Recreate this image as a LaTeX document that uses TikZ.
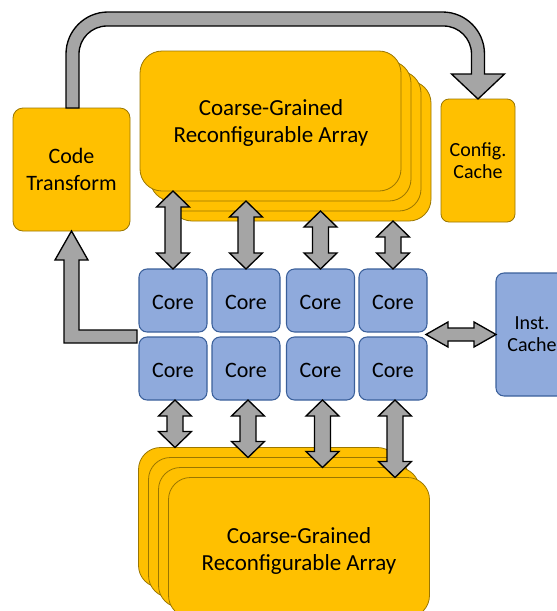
\documentclass[tikz,border=0pt]{standalone}
\usepackage{fontspec}
\setmainfont{Carlito}
\usetikzlibrary{calc}

\definecolor{orangefill}{HTML}{FFC000}
\definecolor{orangeline}{HTML}{9A7600}
\definecolor{bluefill}{HTML}{8FAADC}
\definecolor{blueline}{HTML}{3A5F9A}
\definecolor{arrowfill}{HTML}{A5A5A5}

% vertical double-headed block arrow from tip #1 (top) to tip #2 (bottom)
\newcommand\vdarrow[2]{%
  \draw[blockarrow] (#1) -- ($(#1)+(16.5,16)$) -- ($(#1)+(8,16)$)
    -- ($(#2)+(8,-16)$) -- ($(#2)+(16.5,-16)$) -- (#2)
    -- ($(#2)+(-16.5,-16)$) -- ($(#2)+(-8,-16)$)
    -- ($(#1)+(-8,16)$) -- ($(#1)+(-16.5,16)$) -- cycle;}

% horizontal double-headed block arrow from tip #1 (left) to tip #2 (right)
\newcommand\hdarrow[2]{%
  \draw[blockarrow] (#1) -- ($(#1)+(22,-12.5)$) -- ($(#1)+(22,-6.5)$)
    -- ($(#2)+(-22,-6.5)$) -- ($(#2)+(-22,-12.5)$) -- (#2)
    -- ($(#2)+(-22,12.5)$) -- ($(#2)+(-22,6.5)$)
    -- ($(#1)+(22,6.5)$) -- ($(#1)+(22,12.5)$) -- cycle;}

\begin{document}
\begin{tikzpicture}[x=0.75pt,y=-0.75pt,
  sz/.style 2 args={minimum width=#1*0.75pt, minimum height=#2*0.75pt,
    inner sep=0pt, outer sep=0pt},
  orangebox/.style={draw=orangeline, fill=orangefill, line width=0.6pt},
  layer/.style={orangebox, rounded corners=16.5pt, sz={261}{140}},
  arraytext/.style={align=center, font=\fontsize{17.25}{20.6}\selectfont},
  core/.style={draw=blueline, fill=bluefill, line width=0.8pt, rounded corners=6pt,
    sz={68}{63}, font=\fontsize{16.5}{20}\selectfont, text height=13.2pt, text depth=0pt},
  cachebox/.style={rounded corners=6pt, align=center,
    font=\fontsize{15}{16.5}\selectfont},
  blockarrow/.style={draw=black, fill=arrowfill, line width=1pt, line join=miter}]

\useasboundingbox (0,0) rectangle (557,611);
\clip (0,0) rectangle (557,611);

% code transform and configuration cache
\node[orangebox, rounded corners=7.5pt, sz={117}{123}, align=center,
  font=\fontsize{16.5}{20.3}\selectfont] (ct) at (71.5,169.5) {Code\\Transform};
\node[orangebox, cachebox, sz={74}{123}] (cfg) at (478,160.5) {Config.\\Cache};

% upper reconfigurable array stack (T1 in front)
\node[layer] (T4) at (300.5,151) {};
\node[layer] (T3) at (290.5,141) {};
\node[layer] (T2) at (280.5,131) {};
\node[layer] (T1) at (270.5,121) {};
\node[arraytext] (ttext) at (271,123) {Coarse-Grained\\Reconfigurable Array};

% lower reconfigurable array stack (B4 in front)
\node[layer] (B1) at (269,517.5) {};
\node[layer] (B2) at (279,527.5) {};
\node[layer] (B3) at (289,537.5) {};
\node[layer] (B4) at (299,547.5) {};
\node[arraytext] (btext) at (299,551)
  {Coarse-Grained\\Reconfigurable Array};

% grid of cores
\foreach \x [count=\i] in {173,246,320.5,393} {
  \node[core] (c1\i) at (\x,300.5) {Core};
  \node[core] (c2\i) at (\x,368.5) {Core};
}

% instruction cache
\node[draw=blueline, fill=bluefill, line width=0.8pt, cachebox, sz={72}{123}]
  (inst) at (532,334.5) {Inst.\\Cache};

% links between the cores and the upper array
\foreach \i in {1,...,4} {
  \coordinate (ua\i) at (c1\i.north |- T\i.south);
  \vdarrow{ua\i}{c1\i.north}
}

% links between the cores and the lower array
\foreach \i in {1,...,4} {
  \coordinate (da\i) at ($(c2\i.south)+(2,0)$);
  \coordinate (db\i) at (da\i |- B\i.north);
  \vdarrow{da\i}{db\i}
}

% link to the instruction cache
\coordinate (ia) at ($(c14.south east)!0.5!(c24.north east)+(-1,0)$);
\coordinate (ib) at (inst.west);
\hdarrow{ia}{ib}

% feedback from the cores to the code transform
\coordinate (ls) at ($(c11.south west)!0.5!(c21.north west)+(-2,2)$);
\coordinate (lk) at (ct.south |- ls);
\draw[blockarrow] ($(ls)+(0,-6.5)$) -- ($(lk)+(7.5,-6.5)$) -- ($(ct.south)+(7.5,29)$)
  -- ($(ct.south)+(16.5,29)$) -- (ct.south) -- ($(ct.south)+(-16.5,29)$)
  -- ($(ct.south)+(-7.5,29)$) -- ($(lk)+(-7.5,6.5)$) -- ($(ls)+(0,6.5)$) -- cycle;

% configuration path from the code transform to the configuration cache
\coordinate (ts) at ($(ct.north)+(1,0)$);
\coordinate (te) at (cfg.north);
\coordinate (tl) at (0,19);
\draw[blockarrow] ($(ts)+(-6.5,0)$) [rounded corners=31.5pt]
  -- ($(ts |- tl)+(-6.5,-7)$) -- ($(te |- tl)+(6.5,-7)$) [sharp corners]
  -- ($(te)+(6.5,-25)$) -- ($(te)+(26.5,-25)$) -- (te)
  -- ($(te)+(-26.5,-25)$) -- ($(te)+(-6.5,-25)$) [rounded corners=21pt]
  -- ($(te |- tl)+(-6.5,7)$) -- ($(ts |- tl)+(6.5,7)$) [sharp corners]
  -- ($(ts)+(6.5,0)$) -- cycle;

\end{tikzpicture}
\end{document}
